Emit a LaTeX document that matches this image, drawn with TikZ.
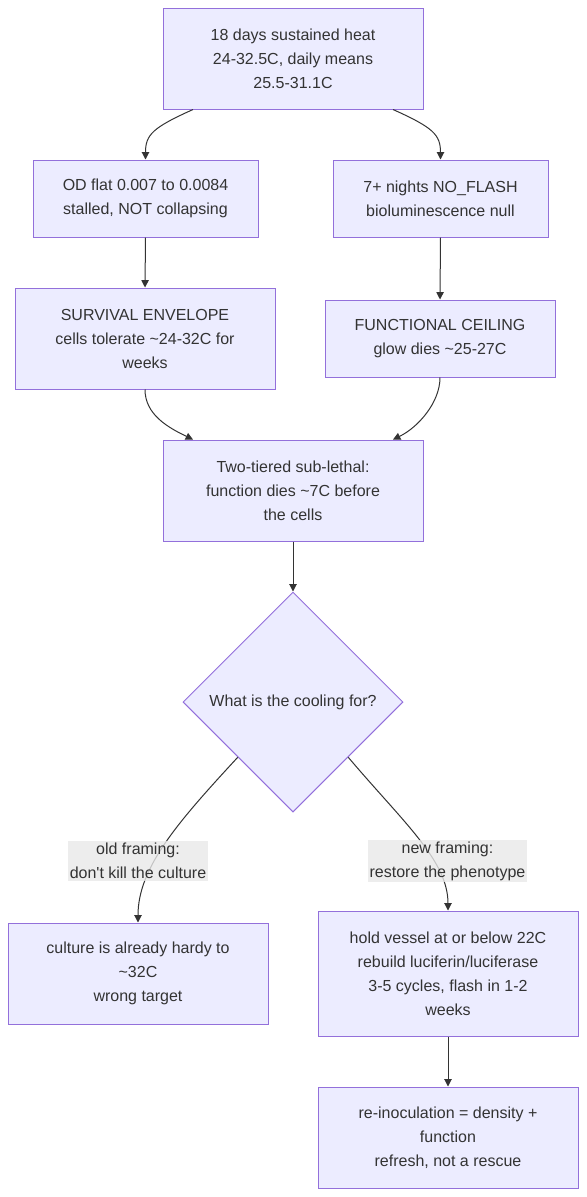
\documentclass[tikz,border=0pt]{standalone}
\usepackage{fontspec}
\setmainfont{Liberation Sans}
\usetikzlibrary{shapes.geometric,arrows.meta}
\definecolor{boxfill}{RGB}{236,236,255}
\definecolor{boxline}{RGB}{147,112,219}
\definecolor{inktext}{RGB}{51,51,51}
\definecolor{labelfill}{RGB}{232,232,232}
\begin{document}
\begin{tikzpicture}[x=0.75pt,y=0.75pt,yscale=-1,xscale=1,
  flowbox/.style={draw=boxline,fill=boxfill,line width=0.75pt,text=inktext,align=center,inner sep=0pt,font=\fontsize{12}{18}\selectfont,minimum width=195pt},
  decision/.style={diamond,draw=boxline,fill=boxfill,line width=0.75pt,text=inktext,align=center,inner sep=0pt,aspect=1,minimum width=165pt,minimum height=165pt,font=\fontsize{12}{18}\selectfont},
  edgelabel/.style={fill=labelfill,fill opacity=0.8,text opacity=1,text=inktext,align=center,inner sep=1.5pt,font=\fontsize{12}{18}\selectfont},
  flowline/.style={draw=inktext,line width=0.75pt,-{Triangle[length=5.5pt,width=5.5pt]}}]
\useasboundingbox (0,0) rectangle (586,1197);

%Shape: Rectangle
\node [flowbox,minimum height=75.75pt] (heat) at (293,58.5) {18 days sustained heat\\24-32.5C, daily means\\25.5-31.1C};
%Shape: Rectangle
\node [flowbox,minimum width=168.75pt,minimum height=57.75pt] (odflat) at (145.5,198.5) {OD flat 0.007 to 0.0084\\stalled, NOT collapsing};
%Shape: Rectangle
\node [flowbox,minimum width=161.25pt,minimum height=57.75pt] (noflash) at (440.5,198.5) {7+ nights NO\_FLASH\\bioluminescence null};
%Shape: Rectangle
\node [flowbox,minimum height=75.75pt] (survival) at (145,338.5) {SURVIVAL ENVELOPE\\cells tolerate \textasciitilde 24-32C for\\weeks};
%Shape: Rectangle
\node [flowbox,minimum width=172.5pt,minimum height=57.75pt] (ceiling) at (440,338.5) {FUNCTIONAL CEILING\\glow dies \textasciitilde 25-27C};
%Shape: Rectangle
\node [flowbox,minimum height=75.75pt] (tiered) at (293,490.5) {Two-tiered sub-lethal:\\function dies \textasciitilde 7C before\\the cells};
%Shape: Diamond
\node [decision] (cooling) at (293,702) {What is the cooling for?};
%Shape: Rectangle
\node [flowbox,minimum height=75.75pt] (hardy) at (138,973.5) {culture is already hardy to\\\textasciitilde 32C\\wrong target};
%Shape: Rectangle
\node [flowbox,minimum height=93.75pt] (hold) at (448,973.5) {hold vessel at or below 22C\\rebuild luciferin/luciferase\\3-5 cycles, flash in 1-2\\weeks};
%Shape: Rectangle
\node [flowbox,minimum height=75.75pt] (reinoc) at (448,1137.5) {re-inoculation = density +\\function\\refresh, not a rescue};

%Curve Lines
\draw [flowline] ([xshift=-75pt]heat.south) .. controls +(-40,18) and +(0,-25) .. (odflat.north);
\draw [flowline] ([xshift=75pt]heat.south) .. controls +(40,18) and +(0,-25) .. (noflash.north);
%Straight Lines
\draw [flowline] (odflat.south) -- (survival.north);
\draw [flowline] (noflash.south) -- (ceiling.north);
%Curve Lines
\draw [flowline] (survival.south) .. controls +(0,25) and +(-25,-12) .. ([xshift=-75pt]tiered.north);
\draw [flowline] (ceiling.south) .. controls +(0,25) and +(25,-12) .. ([xshift=75pt]tiered.north);
%Straight Lines
\draw [flowline] (tiered.south) -- (cooling.north);
%Curve Lines
\draw [flowline] (cooling.south west) .. controls +(-60,65) and +(0,-55) .. (hardy.north);
\draw [flowline] (cooling.south east) .. controls +(55,65) and +(0,-50) .. (hold.north);
%Straight Lines
\draw [flowline] (hold.south) -- (reinoc.north);

% Text Node
\node [edgelabel] (oldlbl) at (138,861) {old framing:\\don\textquotesingle t kill the culture};
% Text Node
\node [edgelabel] (newlbl) at (447.5,861) {new framing:\\restore the phenotype};
\end{tikzpicture}
\end{document}
